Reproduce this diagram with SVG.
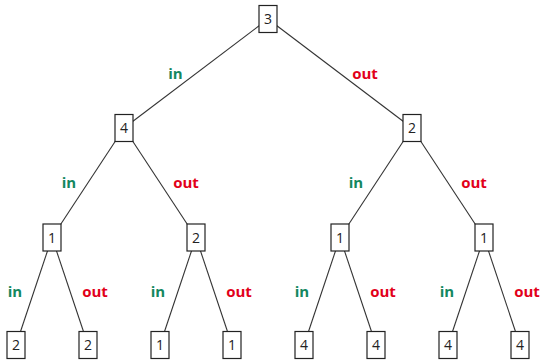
<svg xmlns="http://www.w3.org/2000/svg" width="542" height="360" viewBox="0 0 542 360">
  <style>
    .edge { stroke: #333; stroke-width: 1.1; fill: none; }
    .box { fill: #fff; stroke: #222; stroke-width: 1.2; }
    .num { font-family: "Open Sans", "DejaVu Sans", sans-serif; font-size: 14px; fill: #222; text-anchor: middle; }
    .lbl { font-family: "Open Sans", "DejaVu Sans", sans-serif; font-size: 15px; font-weight: bold; text-anchor: middle; }
    .in { fill: #14875f; }
    .out { fill: #e2001a; }
  </style>
  <rect width="542" height="360" fill="#fff"/>

  <!-- connectors: centre to centre, boxes painted on top -->
  <g id="connectors">
    <line class="edge" x1="268" y1="19" x2="124" y2="128"/>
    <line class="edge" x1="268" y1="19" x2="412" y2="128"/>
    <line class="edge" x1="124" y1="128" x2="52" y2="237.5"/>
    <line class="edge" x1="124" y1="128" x2="196" y2="237.5"/>
    <line class="edge" x1="412" y1="128" x2="340" y2="237.5"/>
    <line class="edge" x1="412" y1="128" x2="484" y2="237.5"/>
    <line class="edge" x1="52" y1="237.5" x2="16" y2="345"/>
    <line class="edge" x1="52" y1="237.5" x2="88" y2="345"/>
    <line class="edge" x1="196" y1="237.5" x2="160" y2="345"/>
    <line class="edge" x1="196" y1="237.5" x2="232" y2="345"/>
    <line class="edge" x1="340" y1="237.5" x2="304" y2="345"/>
    <line class="edge" x1="340" y1="237.5" x2="376" y2="345"/>
    <line class="edge" x1="484" y1="237.5" x2="448" y2="345"/>
    <line class="edge" x1="484" y1="237.5" x2="520" y2="345"/>
  </g>

  <!-- edge labels -->
  <g id="labels">
    <text class="lbl in" x="175.5" y="79">in</text>
    <text class="lbl out" x="365" y="79">out</text>
    <text class="lbl in" x="69" y="188">in</text>
    <text class="lbl out" x="186" y="188">out</text>
    <text class="lbl in" x="356" y="188">in</text>
    <text class="lbl out" x="474" y="188">out</text>
    <text class="lbl in" x="15" y="297">in</text>
    <text class="lbl out" x="95" y="297">out</text>
    <text class="lbl in" x="158" y="297">in</text>
    <text class="lbl out" x="239" y="297">out</text>
    <text class="lbl in" x="302" y="297">in</text>
    <text class="lbl out" x="383" y="297">out</text>
    <text class="lbl in" x="447" y="297">in</text>
    <text class="lbl out" x="527" y="297">out</text>
  </g>

  <!-- nodes -->
  <g id="n_root"><rect class="box" x="259" y="5.5" width="18" height="27"/><text class="num" x="268" y="24">3</text></g>
  <g id="n_l"><rect class="box" x="115" y="114.5" width="18" height="27"/><text class="num" x="124" y="133">4</text></g>
  <g id="n_r"><rect class="box" x="403" y="114.5" width="18" height="27"/><text class="num" x="412" y="133">2</text></g>
  <g id="n_ll"><rect class="box" x="43" y="224" width="18" height="27"/><text class="num" x="52" y="242.5">1</text></g>
  <g id="n_lr"><rect class="box" x="187" y="224" width="18" height="27"/><text class="num" x="196" y="242.5">2</text></g>
  <g id="n_rl"><rect class="box" x="331" y="224" width="18" height="27"/><text class="num" x="340" y="242.5">1</text></g>
  <g id="n_rr"><rect class="box" x="475" y="224" width="18" height="27"/><text class="num" x="484" y="242.5">1</text></g>
  <g id="n_lll"><rect class="box" x="7" y="331.5" width="18" height="27"/><text class="num" x="16" y="350">2</text></g>
  <g id="n_llr"><rect class="box" x="79" y="331.5" width="18" height="27"/><text class="num" x="88" y="350">2</text></g>
  <g id="n_lrl"><rect class="box" x="151" y="331.5" width="18" height="27"/><text class="num" x="160" y="350">1</text></g>
  <g id="n_lrr"><rect class="box" x="223" y="331.5" width="18" height="27"/><text class="num" x="232" y="350">1</text></g>
  <g id="n_rll"><rect class="box" x="295" y="331.5" width="18" height="27"/><text class="num" x="304" y="350">4</text></g>
  <g id="n_rlr"><rect class="box" x="367" y="331.5" width="18" height="27"/><text class="num" x="376" y="350">4</text></g>
  <g id="n_rrl"><rect class="box" x="439" y="331.5" width="18" height="27"/><text class="num" x="448" y="350">4</text></g>
  <g id="n_rrr"><rect class="box" x="511" y="331.5" width="18" height="27"/><text class="num" x="520" y="350">4</text></g>
</svg>
